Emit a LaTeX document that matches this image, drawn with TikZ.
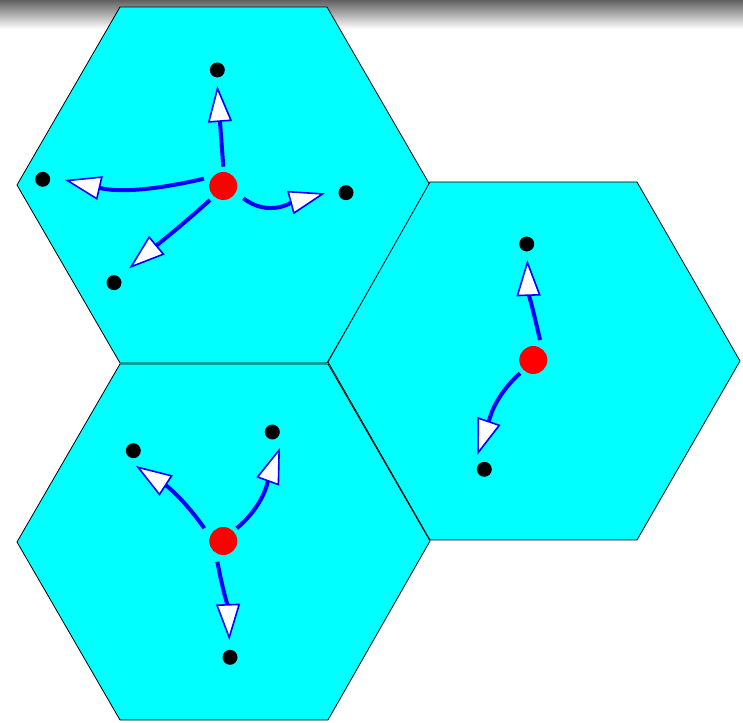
\documentclass[tikz,border=0pt]{standalone}
\usetikzlibrary{arrows.meta}
\definecolor{cellcyan}{RGB}{0,255,255}
\definecolor{srcred}{RGB}{255,0,0}
\definecolor{flowblue}{RGB}{0,0,255}
\tikzset{
  hexcell/.style={fill=cellcyan, draw=black, line width=0.8pt, line join=miter},
  src/.style={circle, fill=srcred, minimum size=28pt, inner sep=0pt},
  snk/.style={circle, fill=black, minimum size=15pt, inner sep=0pt},
  flow/.style={draw=flowblue, line width=4pt,
    -{Triangle[length=36pt, width=24pt, fill=white, line width=1.6pt]}},
}
\begin{document}
\begin{tikzpicture}[x=1pt,y=1pt]
\useasboundingbox (0,0) rectangle (743,722);
\shade[top color=black!62, bottom color=white] (0,693) rectangle (743,722);
% cells
\draw[hexcell] (17,537) -- (120,715) -- (327,715) -- (430,537) -- (327,359) -- (120,359) -- cycle;
\draw[hexcell] (17,180) -- (120,358) -- (328,358) -- (430,181) -- (328,2) -- (120,2) -- cycle;
\draw[hexcell] (328,360) -- (430,540) -- (637,540) -- (740,361) -- (637,182) -- (430,182) -- cycle;
% nodes
\node[src] (r1) at (223.3,536) {};
\node[snk] (d1t) at (217.3,652) {};
\node[snk] (d1l) at (42.7,542.7) {};
\node[snk] (d1r) at (346,529.3) {};
\node[snk] (d1b) at (114,439.3) {};
\node[src] (r3) at (533.3,362) {};
\node[snk] (d3t) at (526.7,478) {};
\node[snk] (d3b) at (484.3,252.7) {};
\node[src] (r2) at (223.3,181) {};
\node[snk] (d2l) at (133.3,271.3) {};
\node[snk] (d2r) at (272.3,290) {};
\node[snk] (d2b) at (230,64.7) {};
% flows
\draw[flow] ([shift={(0,19.3)}]r1.center) -- ([shift={(0,-16)}]d1t.center);
\draw[flow] ([shift={(-19.3,7.3)}]r1.center) to[out=193,in=-13] ([shift={(22.3,-0.7)}]d1l.center);
\draw[flow] ([shift={(20,-12.3)}]r1.center) to[out=-38,in=195] ([shift={(-21,-0.6)}]d1r.center);
\draw[flow] ([shift={(-13.3,-14)}]r1.center) to[out=222,in=40] ([shift={(15.3,14.4)}]d1b.center);
\draw[flow] ([shift={(6.7,20)}]r3.center) to[out=103,in=-88] ([shift={(0.6,-16)}]d3t.center);
\draw[flow] ([shift={(-13.3,-13.3)}]r3.center) to[out=222,in=71] ([shift={(-7,14.3)}]d3b.center);
\draw[flow] ([shift={(-19,12.7)}]r2.center) to[out=125,in=-33] ([shift={(2.7,-15.3)}]d2l.center);
\draw[flow] ([shift={(13.4,12.7)}]r2.center) to[out=40,in=-110] ([shift={(7.7,-15.7)}]d2r.center);
\draw[flow] ([shift={(-6,-20.7)}]r2.center) to[out=281,in=92] ([shift={(-0.7,17.3)}]d2b.center);
\end{tikzpicture}
\end{document}
